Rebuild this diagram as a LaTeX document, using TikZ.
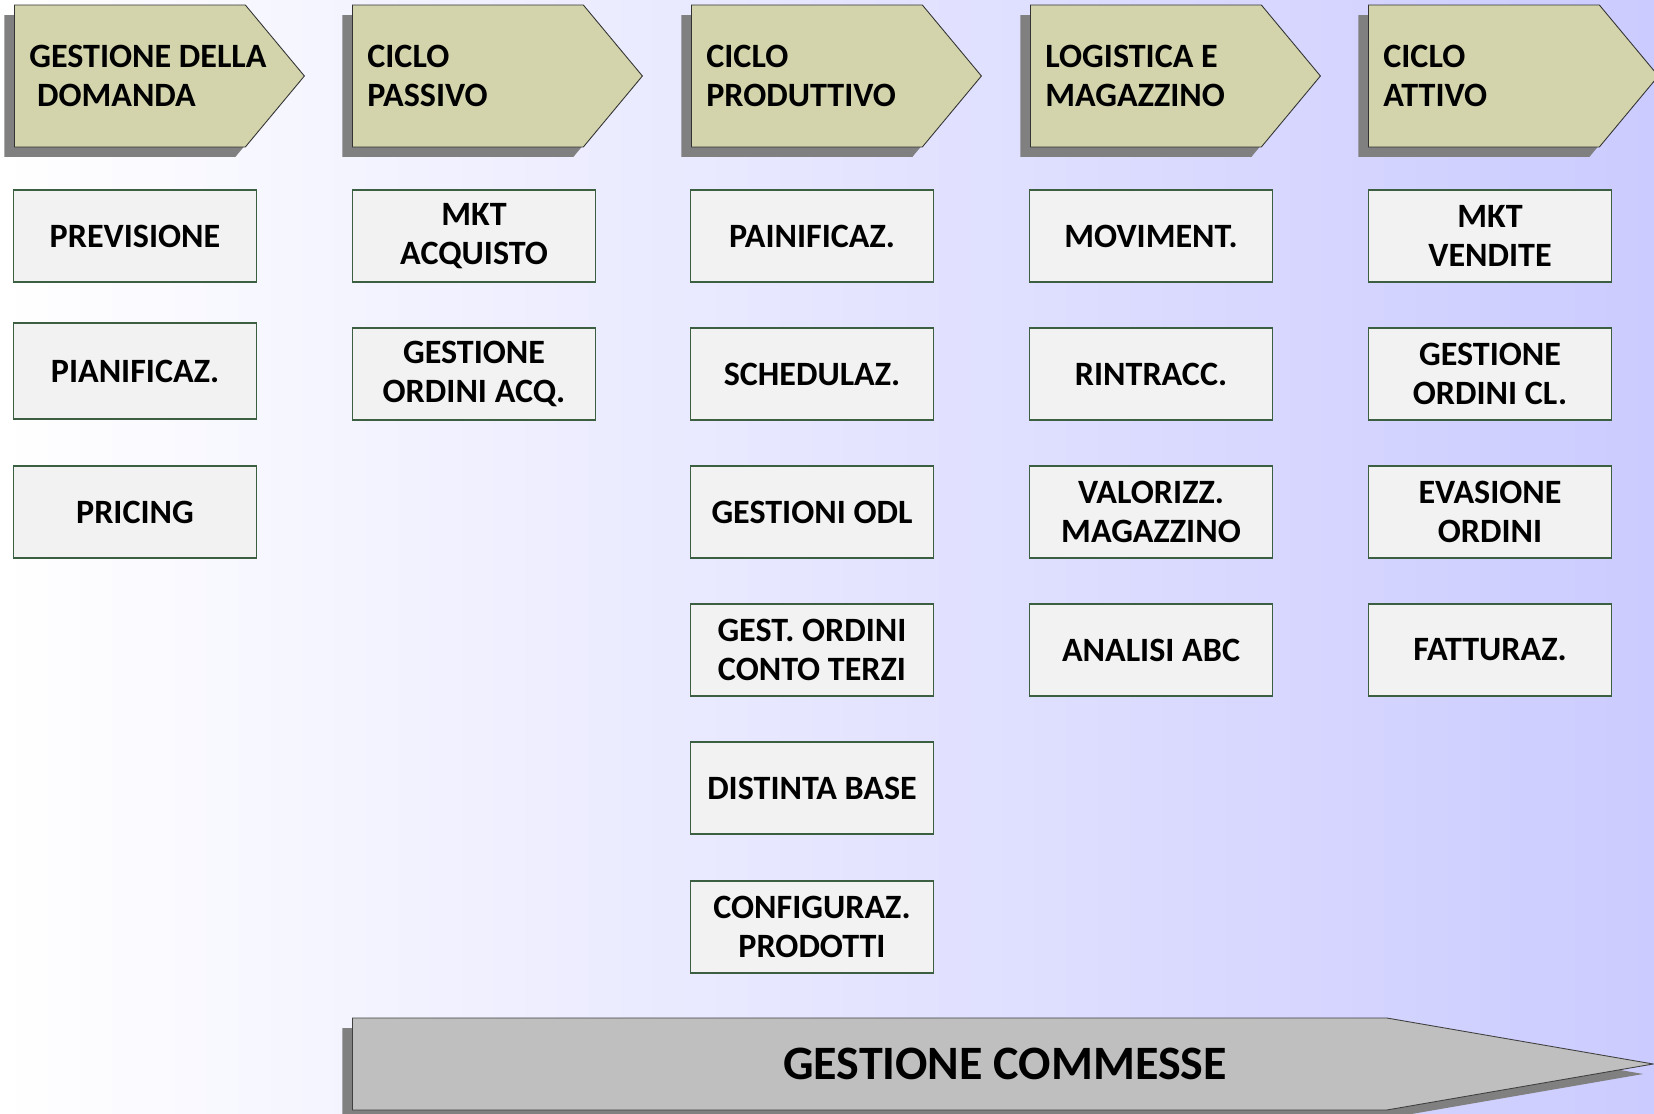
\documentclass[tikz,border=0pt]{standalone}
\usepackage{fontspec}
\setmainfont{Carlito}
\usetikzlibrary{shapes.symbols,shadows}

\definecolor{bgblue}{RGB}{203,203,255}
\definecolor{khaki}{RGB}{211,212,172}
\definecolor{shadowgray}{RGB}{128,128,128}
\definecolor{taskfill}{RGB}{242,242,242}
\definecolor{taskedge}{RGB}{60,95,65}
\definecolor{barfill}{RGB}{191,191,191}

\begin{document}
\begin{tikzpicture}[x=0.02cm, y=-0.02cm,
    head/.style={signal, signal to=east, signal pointer angle=100.5,
      draw=black!80, fill=khaki, line width=0.5pt, inner sep=0pt,
      minimum width=5.8cm, minimum height=2.84cm, anchor=west,
      drop shadow={shadow xshift=-0.2cm, shadow yshift=-0.2cm, opacity=1, fill=shadowgray}},
    headtxt/.style={anchor=west, align=left, inner sep=0pt,
      font=\bfseries\fontsize{19.4}{22.6}\selectfont},
    task/.style={rectangle, draw=taskedge, fill=taskfill, line width=0.6pt,
      minimum width=4.86cm, minimum height=1.84cm, align=center,
      font=\bfseries\fontsize{19.4}{22.2}\selectfont},
    bar/.style={signal, signal to=east, signal pointer angle=19.6,
      draw=black!75, fill=barfill, line width=0.5pt, inner sep=0pt,
      minimum width=26.02cm, minimum height=1.84cm, anchor=west,
      drop shadow={shadow xshift=-0.2cm, shadow yshift=-0.2cm, opacity=1, fill=shadowgray}}]

  % Background
  \useasboundingbox (0,0) rectangle (1654,1114);
  \shade[left color=white, right color=bgblue] (0,0) rectangle (1654,1114);

  % Draw header chevrons
  \node[head] (dom) at (14,76) {};
  \node[head] (pass) at (352,76) {};
  \node[head] (prod) at (691,76) {};
  \node[head] (log) at (1030,76) {};
  \node[head] (att) at (1368,76) {};

  % Label headers
  \node[headtxt] (domtxt) at ([xshift=0.3cm]dom.west) {GESTIONE DELLA\\\ DOMANDA};
  \node[headtxt] (passtxt) at ([xshift=0.3cm]pass.west) {CICLO\\PASSIVO};
  \node[headtxt] (prodtxt) at ([xshift=0.3cm]prod.west) {CICLO\\PRODUTTIVO};
  \node[headtxt] (logtxt) at ([xshift=0.3cm]log.west) {LOGISTICA E\\MAGAZZINO};
  \node[headtxt] (atttxt) at ([xshift=0.3cm]att.west) {CICLO\\ATTIVO};

  % Gestione della domanda
  \node[task] (prev) at (135,236) {PREVISIONE};
  \node[task, minimum height=1.92cm] (pianif) at (135,371) {PIANIFICAZ.};
  \node[task] (pricing) at (135,512) {PRICING};

  % Ciclo passivo
  \node[task] (mktacq) at (474,236) {MKT\\ACQUISTO};
  \node[task] (ordacq) at (474,374) {GESTIONE\\ORDINI ACQ.};

  % Ciclo produttivo
  \node[task] (painif) at (812,236) {PAINIFICAZ.};
  \node[task] (sched) at (812,374) {SCHEDULAZ.};
  \node[task] (odl) at (812,512) {GESTIONI ODL};
  \node[task] (terzi) at (812,650) {GEST. ORDINI\\CONTO TERZI};
  \node[task] (distinta) at (812,788) {DISTINTA BASE};
  \node[task] (config) at (812,927) {CONFIGURAZ.\\PRODOTTI};

  % Logistica e magazzino
  \node[task] (moviment) at (1151,236) {MOVIMENT.};
  \node[task] (rintracc) at (1151,374) {RINTRACC.};
  \node[task] (valorizz) at (1151,512) {VALORIZZ.\\MAGAZZINO};
  \node[task] (abc) at (1151,650) {ANALISI ABC};

  % Ciclo attivo
  \node[task] (mktvend) at (1490,236) {MKT\\VENDITE};
  \node[task] (ordcl) at (1490,374) {GESTIONE\\ORDINI CL.};
  \node[task] (evasione) at (1490,512) {EVASIONE\\ORDINI};
  \node[task] (fatturaz) at (1490,650) {FATTURAZ.};

  % Draw gestione commesse
  \node[bar] (commesse) at (352,1064) {};
  \node[font=\bfseries\fontsize{27.3}{32}\selectfont, inner sep=0pt] (commtxt) at (1005,1064) {GESTIONE COMMESSE};
\end{tikzpicture}
\end{document}
